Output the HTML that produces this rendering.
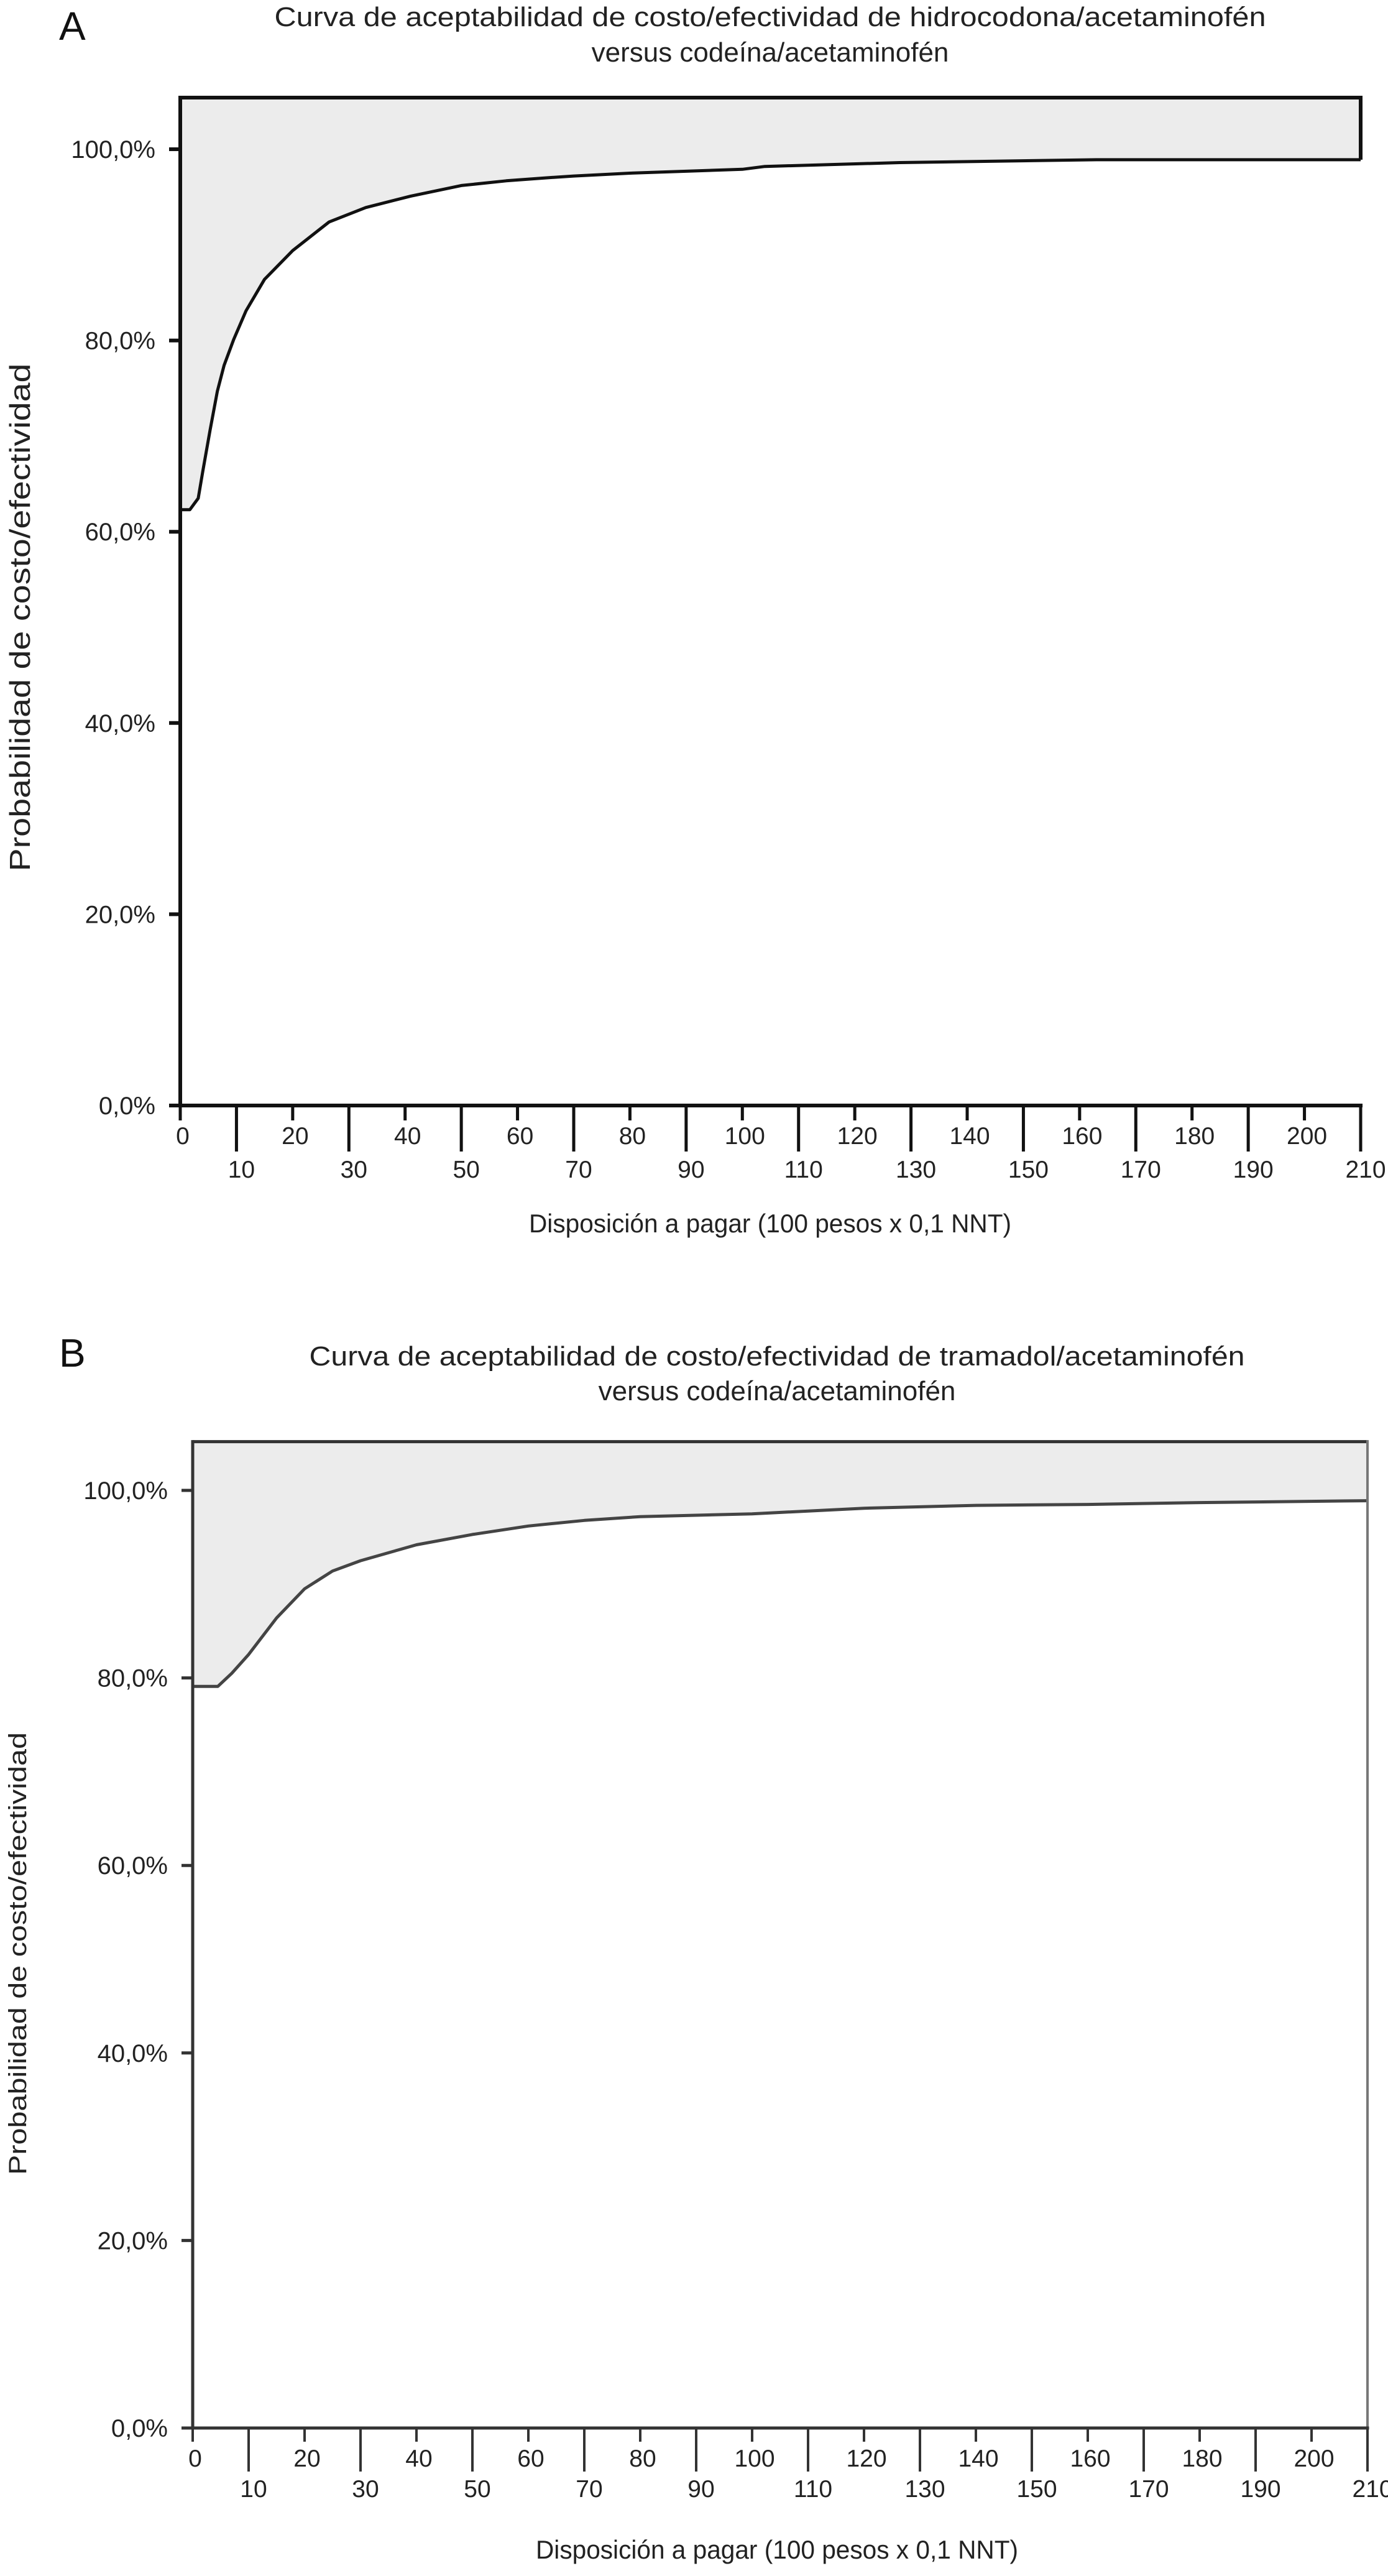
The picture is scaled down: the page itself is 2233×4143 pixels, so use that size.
<!DOCTYPE html>
<html><head><meta charset="utf-8">
<style>
html,body{margin:0;padding:0;background:#fff;}
svg{display:block;}
text{font-family:"Liberation Sans",Arial,sans-serif;}
</style></head>
<body>
<svg id="fig" width="2233" height="4143" viewBox="0 0 2233 4143" xmlns="http://www.w3.org/2000/svg">
<rect x="0" y="0" width="2233" height="4143" fill="#fff"/>
<g id="chartA"></g>
<g id="chartB"></g>
</svg>
<script>
// Panel A data: willingness to pay vs probability (%)
const xA = [0, 1.7, 3.2, 4, 5.3, 6.6, 7.8, 9.5, 11.7, 15, 20, 26.5, 33, 41, 50, 58, 65, 70, 80, 90, 100, 104, 128, 163, 210];
const yA = [62.3, 62.3, 63.5, 66.3, 70.6, 74.7, 77.4, 80.1, 83.1, 86.4, 89.4, 92.4, 93.9, 95.1, 96.2, 96.7, 97.0, 97.2, 97.5, 97.7, 97.9, 98.2, 98.6, 98.9, 98.9];
// Panel B data
const xB = [0, 4.5, 7, 10, 15, 20, 25, 30, 40, 50, 60, 70, 80, 100, 120, 140, 160, 180, 210];
const yB = [79.1, 79.1, 80.5, 82.5, 86.4, 89.5, 91.4, 92.5, 94.2, 95.3, 96.2, 96.8, 97.2, 97.5, 98.1, 98.4, 98.5, 98.7, 98.9];
const yTickValues = [0, 20, 40, 60, 80, 100];
const yTickLabels = ["0,0%", "20,0%", "40,0%", "60,0%", "80,0%", "100,0%"];
const xTickValues = [0,10,20,30,40,50,60,70,80,90,100,110,120,130,140,150,160,170,180,190,200,210];

const NS = "http://www.w3.org/2000/svg";
function mk(parent, tag, attrs, txt){
  const e = document.createElementNS(NS, tag);
  for (const k in attrs) e.setAttribute(k, attrs[k]);
  if (txt !== undefined) e.textContent = txt;
  parent.appendChild(e);
  return e;
}

function drawPanel(g, cfg, xs, ys){
  const sx = v => cfg.x0 + (v/210)*(cfg.x1-cfg.x0);
  const sy = v => cfg.y0 - (v/100)*(cfg.y0-cfg.y100);
  const yTop = sy(cfg.topPct);
  const L = mk(g,"text",{x:cfg.letterX,y:cfg.letterY,"font-size":64,fill:"#111"},cfg.letter);
  
  
  const t1 = mk(g,"text",{x:cfg.titleX,y:cfg.t1y,"font-size":44,"text-anchor":"middle",fill:"#222",textLength:cfg.t1len,lengthAdjust:"spacingAndGlyphs"},cfg.title1);
  
  
  const t2 = mk(g,"text",{x:cfg.titleX,y:cfg.t2y,"font-size":44,"text-anchor":"middle",fill:"#222"},"versus codeína/acetaminofén");
  
  
  let d = "M"+sx(xs[0])+","+yTop;
  for (let i=0;i<xs.length;i++) d += " L"+sx(xs[i]).toFixed(1)+","+sy(ys[i]).toFixed(1);
  d += " L"+sx(xs[xs.length-1])+","+yTop+" Z";
  const area = mk(g,"path",{d:d,fill:"#ececec",stroke:"none"});
  
  
  let c = "";
  for (let i=0;i<xs.length;i++) c += (i?" L":"M")+sx(xs[i]).toFixed(1)+","+sy(ys[i]).toFixed(1);
  const curve = mk(g,"path",{d:c,fill:"none",stroke:cfg.curveColor,"stroke-width":cfg.curveW,"stroke-linejoin":"round"});
  
  
  const top = mk(g,"line",{x1:cfg.x0,y1:yTop,x2:cfg.x1,y2:yTop,stroke:cfg.axisColor,"stroke-width":cfg.axisW});
  
  
  const right = mk(g,"line",{x1:cfg.x1,y1:yTop-cfg.axisW/2,x2:cfg.x1,y2:cfg.rightFull?cfg.y0:sy(ys[ys.length-1]),stroke:cfg.rightFull?"#777":cfg.axisColor,"stroke-width":cfg.rightFull?4:cfg.axisW});
  
  
  const ya = mk(g,"line",{x1:cfg.x0,y1:yTop-cfg.axisW/2,x2:cfg.x0,y2:cfg.y0,stroke:cfg.axisColor,"stroke-width":cfg.axisW});
  
  
  const xa = mk(g,"line",{x1:cfg.x0-18,y1:cfg.y0,x2:cfg.x1+cfg.axisW/2,y2:cfg.y0,stroke:cfg.axisColor,"stroke-width":cfg.axisW});
  
  
  for (let i=0;i<yTickValues.length;i++){
    const y = sy(yTickValues[i]);
    const tk = mk(g,"line",{x1:cfg.x0-18,y1:y,x2:cfg.x0,y2:y,stroke:cfg.axisColor,"stroke-width":cfg.axisW});
    
    
    const lb = mk(g,"text",{x:cfg.x0-40,y:y+14,"font-size":40,"text-anchor":"end",fill:"#222"},yTickLabels[i]);
    
    
  }
  for (let i=0;i<xTickValues.length;i++){
    const v = xTickValues[i];
    const x = sx(v);
    const odd = (v/10)%2===1;
    const tk = mk(g,"line",{x1:x,y1:cfg.y0,x2:x,y2:cfg.y0+(odd?cfg.longT:cfg.shortT),stroke:cfg.axisColor,"stroke-width":cfg.axisW-1});
    
    
    const lb = mk(g,"text",{x:x+(odd?8:4),y:(odd?cfg.lowY:cfg.upY)+14,"font-size":39,"text-anchor":"middle",fill:"#222"},String(v));
    
    
  }
  const xt = mk(g,"text",{x:cfg.titleX,y:cfg.xTitleY,"font-size":42,"text-anchor":"middle",fill:"#222",textLength:776,lengthAdjust:"spacingAndGlyphs"},"Disposición a pagar (100 pesos x 0,1 NNT)");
  
  
  const yt = mk(g,"text",{x:0,y:0,"font-size":cfg.yTitleSize,"text-anchor":"middle",fill:"#222",textLength:cfg.yTitleLen,lengthAdjust:"spacingAndGlyphs",transform:"translate("+cfg.yTitleX+","+cfg.yTitleY+") rotate(-90)"},"Probabilidad de costo/efectividad");
  
  
}

drawPanel(document.getElementById("chartA"), {
  letter:"A", letterX:95, letterY:64,
  title1:"Curva de aceptabilidad de costo/efectividad de hidrocodona/acetaminofén", t1len:1595,
  titleX:1239, t1y:42, t2y:99,
  x0:290, x1:2189, y0:1778, y100:240, topPct:105.4,
  axisColor:"#111", axisW:6, curveColor:"#111", curveW:5, rightFull:false,
  longT:74, shortT:24, upY:1826, lowY:1880, xTitleY:1982,
  yTitleX:48, yTitleY:993, yTitleSize:46, yTitleLen:817
}, xA, yA);

drawPanel(document.getElementById("chartB"), {
  letter:"B", letterX:95, letterY:2198,
  title1:"Curva de aceptabilidad de costo/efectividad de tramadol/acetaminofén", t1len:1505,
  titleX:1250, t1y:2196, t2y:2252,
  x0:310, x1:2200, y0:3905, y100:2397, topPct:105.2,
  axisColor:"#333", axisW:5, curveColor:"#444", curveW:5, rightFull:true,
  longT:70, shortT:22, upY:3953, lowY:4002, xTitleY:4115,
  yTitleX:42, yTitleY:3142, yTitleSize:40, yTitleLen:712
}, xB, yB);
</script>
</body></html>
